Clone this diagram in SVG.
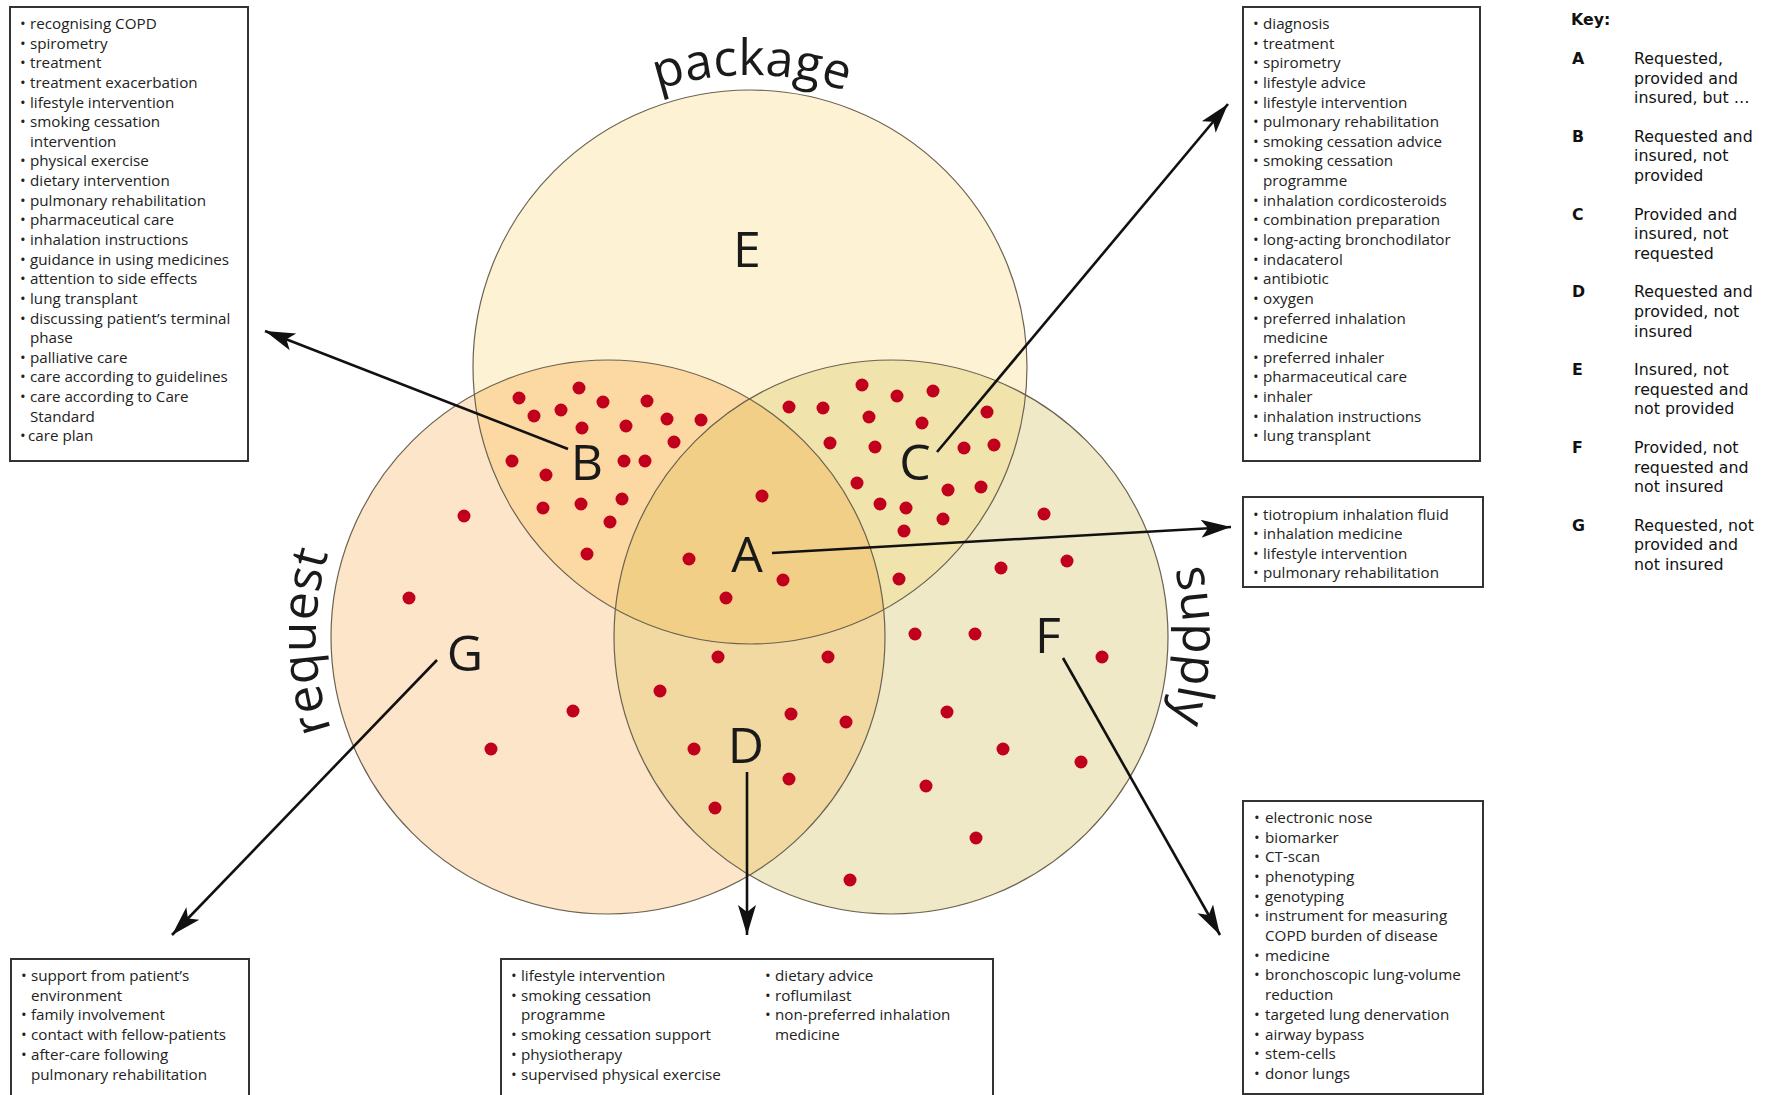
<svg xmlns="http://www.w3.org/2000/svg" xmlns:xlink="http://www.w3.org/1999/xlink" width="1767" height="1095" viewBox="0 0 1767 1095">
<style>
.t{font-family:"Open Sans","Noto Sans","Liberation Sans",sans-serif;font-size:15.2px;fill:#222}
.big{font-family:"Open Sans","Noto Sans","Liberation Sans",sans-serif;font-size:50px;fill:#1a1a1a}
.lab{text-anchor:middle}
.k{font-family:"DejaVu Sans","Liberation Sans",sans-serif;font-size:15.8px;fill:#111}
.kb{font-weight:bold}
.box{fill:#fff;stroke:#333;stroke-width:2}
.ring{fill:none;stroke:#6b6350;stroke-width:1.2}
.d{fill:#c1001d}
.c{fill:none;stroke:#111;stroke-width:2.6;marker-end:url(#ah)}
</style>
<defs>
<marker id="ah" markerUnits="userSpaceOnUse" markerWidth="32" markerHeight="22" refX="30" refY="11" orient="auto">
<path d="M0,2 L30,11 L0,20 L7,11 Z" fill="#111"/>
</marker>
<clipPath id="cpP"><circle cx="750" cy="367" r="277"/></clipPath>
<clipPath id="cpR"><circle cx="608" cy="637" r="277"/></clipPath>
<clipPath id="cpS"><circle cx="891" cy="637" r="277"/></clipPath>
<path id="arcP" d="M458,367 A292,292 0 0 1 1042,367"/>
<path id="arcR" d="M608,929 A292,292 0 0 1 608,345"/>
<path id="arcS" d="M891,345 A292,292 0 0 1 891,929"/>
</defs>

<g id="venn">
<circle cx="750" cy="367" r="277" fill="#fdf2d3"/>
<circle cx="608" cy="637" r="277" fill="#fde5ca"/>
<circle cx="891" cy="637" r="277" fill="#efe9c8"/>
<g clip-path="url(#cpP)"><circle cx="608" cy="637" r="277" fill="#fcd9a3"/><circle cx="891" cy="637" r="277" fill="#f0e3ab"/></g>
<g clip-path="url(#cpR)"><circle cx="891" cy="637" r="277" fill="#f2d9a2"/></g>
<g clip-path="url(#cpR)"><g clip-path="url(#cpS)"><circle cx="750" cy="367" r="277" fill="#f2cf86"/></g></g>
<circle class="ring" cx="750" cy="367" r="277"/>
<circle class="ring" cx="608" cy="637" r="277"/>
<circle class="ring" cx="891" cy="637" r="277"/>
</g>

<g id="set-labels">
<text class="big lab"><textPath xlink:href="#arcP" href="#arcP" startOffset="50.2%">package</textPath></text>
<text class="big lab"><textPath xlink:href="#arcR" href="#arcR" startOffset="49.5%">request</textPath></text>
<text class="big lab"><textPath xlink:href="#arcS" href="#arcS" startOffset="50.9%">supply</textPath></text>
</g>

<g id="dots">
<circle class="d" r="6.5" cx="519" cy="398"/><circle class="d" r="6.5" cx="579" cy="388"/><circle class="d" r="6.5" cx="534" cy="416"/><circle class="d" r="6.5" cx="561" cy="410"/><circle class="d" r="6.5" cx="603" cy="402"/><circle class="d" r="6.5" cx="647" cy="401"/><circle class="d" r="6.5" cx="582" cy="428"/><circle class="d" r="6.5" cx="626" cy="426"/><circle class="d" r="6.5" cx="667" cy="419"/><circle class="d" r="6.5" cx="701" cy="420"/><circle class="d" r="6.5" cx="674" cy="442"/><circle class="d" r="6.5" cx="512" cy="461"/><circle class="d" r="6.5" cx="546" cy="475"/><circle class="d" r="6.5" cx="624" cy="461"/><circle class="d" r="6.5" cx="645" cy="461"/><circle class="d" r="6.5" cx="543" cy="508"/><circle class="d" r="6.5" cx="581" cy="504"/><circle class="d" r="6.5" cx="622" cy="499"/><circle class="d" r="6.5" cx="610" cy="522"/><circle class="d" r="6.5" cx="587" cy="554"/>
<circle class="d" r="6.5" cx="789" cy="407"/><circle class="d" r="6.5" cx="823" cy="408"/><circle class="d" r="6.5" cx="862" cy="385"/><circle class="d" r="6.5" cx="897" cy="396"/><circle class="d" r="6.5" cx="933" cy="391"/><circle class="d" r="6.5" cx="869" cy="417"/><circle class="d" r="6.5" cx="922" cy="423"/><circle class="d" r="6.5" cx="987" cy="412"/><circle class="d" r="6.5" cx="830" cy="443"/><circle class="d" r="6.5" cx="875" cy="447"/><circle class="d" r="6.5" cx="964" cy="448"/><circle class="d" r="6.5" cx="994" cy="445"/><circle class="d" r="6.5" cx="857" cy="483"/><circle class="d" r="6.5" cx="948" cy="490"/><circle class="d" r="6.5" cx="981" cy="487"/><circle class="d" r="6.5" cx="880" cy="504"/><circle class="d" r="6.5" cx="906" cy="508"/><circle class="d" r="6.5" cx="943" cy="519"/><circle class="d" r="6.5" cx="904" cy="531"/><circle class="d" r="6.5" cx="899" cy="579"/>
<circle class="d" r="6.5" cx="762" cy="496"/><circle class="d" r="6.5" cx="689" cy="559"/><circle class="d" r="6.5" cx="783" cy="580"/><circle class="d" r="6.5" cx="726" cy="598"/>
<circle class="d" r="6.5" cx="718" cy="657"/><circle class="d" r="6.5" cx="828" cy="657"/><circle class="d" r="6.5" cx="660" cy="691"/><circle class="d" r="6.5" cx="791" cy="714"/><circle class="d" r="6.5" cx="846" cy="722"/><circle class="d" r="6.5" cx="694" cy="749"/><circle class="d" r="6.5" cx="789" cy="779"/><circle class="d" r="6.5" cx="715" cy="808"/>
<circle class="d" r="6.5" cx="1044" cy="514"/><circle class="d" r="6.5" cx="1067" cy="561"/><circle class="d" r="6.5" cx="1001" cy="568"/><circle class="d" r="6.5" cx="915" cy="634"/><circle class="d" r="6.5" cx="975" cy="634"/><circle class="d" r="6.5" cx="1102" cy="657"/><circle class="d" r="6.5" cx="947" cy="712"/><circle class="d" r="6.5" cx="1003" cy="749"/><circle class="d" r="6.5" cx="1081" cy="762"/><circle class="d" r="6.5" cx="926" cy="786"/><circle class="d" r="6.5" cx="976" cy="838"/><circle class="d" r="6.5" cx="850" cy="880"/>
<circle class="d" r="6.5" cx="464" cy="516"/><circle class="d" r="6.5" cx="409" cy="598"/><circle class="d" r="6.5" cx="573" cy="711"/><circle class="d" r="6.5" cx="491" cy="749"/>
</g>

<g id="node-E"><text class="big lab" x="747" y="267">E</text></g>
<g id="node-A"><text class="big lab" x="747" y="572">A</text></g>
<g id="node-B"><text class="big lab" x="587" y="480">B</text></g>
<g id="node-C"><text class="big lab" x="915" y="480">C</text></g>
<g id="node-D"><text class="big lab" x="746" y="763">D</text></g>
<g id="node-F"><text class="big lab" x="1048" y="653">F</text></g>
<g id="node-G"><text class="big lab" x="465" y="671">G</text></g>

<g id="connectors">
<line class="c" x1="568" y1="449" x2="265" y2="331"/>
<line class="c" x1="937" y1="452" x2="1228" y2="104"/>
<line class="c" x1="772" y1="553" x2="1231" y2="527"/>
<line class="c" x1="437" y1="660" x2="172" y2="935"/>
<line class="c" x1="747" y1="772" x2="747" y2="935"/>
<line class="c" x1="1063" y1="658" x2="1220" y2="935"/>
</g>

<g id="box-B">
<rect class="box" x="10" y="7" width="238" height="454"/>
<text class="t">
<tspan x="20" y="29">•</tspan><tspan x="30" y="29">recognising COPD</tspan>
<tspan x="20" y="48.6">•</tspan><tspan x="30" y="48.6">spirometry</tspan>
<tspan x="20" y="68.3">•</tspan><tspan x="30" y="68.3">treatment</tspan>
<tspan x="20" y="87.9">•</tspan><tspan x="30" y="87.9">treatment exacerbation</tspan>
<tspan x="20" y="107.5">•</tspan><tspan x="30" y="107.5">lifestyle intervention</tspan>
<tspan x="20" y="127.2">•</tspan><tspan x="30" y="127.2">smoking cessation</tspan>
<tspan x="30" y="146.8">intervention</tspan>
<tspan x="20" y="166.4">•</tspan><tspan x="30" y="166.4">physical exercise</tspan>
<tspan x="20" y="186">•</tspan><tspan x="30" y="186">dietary intervention</tspan>
<tspan x="20" y="205.7">•</tspan><tspan x="30" y="205.7">pulmonary rehabilitation</tspan>
<tspan x="20" y="225.3">•</tspan><tspan x="30" y="225.3">pharmaceutical care</tspan>
<tspan x="20" y="245">•</tspan><tspan x="30" y="245">inhalation instructions</tspan>
<tspan x="20" y="264.6">•</tspan><tspan x="30" y="264.6">guidance in using medicines</tspan>
<tspan x="20" y="284.2">•</tspan><tspan x="30" y="284.2">attention to side effects</tspan>
<tspan x="20" y="303.8">•</tspan><tspan x="30" y="303.8">lung transplant</tspan>
<tspan x="20" y="323.5">•</tspan><tspan x="30" y="323.5">discussing patient’s terminal</tspan>
<tspan x="30" y="343.1">phase</tspan>
<tspan x="20" y="362.7">•</tspan><tspan x="30" y="362.7">palliative care</tspan>
<tspan x="20" y="382.4">•</tspan><tspan x="30" y="382.4">care according to guidelines</tspan>
<tspan x="20" y="402">•</tspan><tspan x="30" y="402">care according to Care</tspan>
<tspan x="30" y="421.6">Standard</tspan>
<tspan x="20" y="441.2">•</tspan><tspan x="28" y="441.2">care plan</tspan>
</text>
</g>

<g id="box-C">
<rect class="box" x="1243" y="7" width="237" height="454"/>
<text class="t">
<tspan x="1253" y="29">•</tspan><tspan x="1263" y="29">diagnosis</tspan>
<tspan x="1253" y="48.6">•</tspan><tspan x="1263" y="48.6">treatment</tspan>
<tspan x="1253" y="68.3">•</tspan><tspan x="1263" y="68.3">spirometry</tspan>
<tspan x="1253" y="87.9">•</tspan><tspan x="1263" y="87.9">lifestyle advice</tspan>
<tspan x="1253" y="107.5">•</tspan><tspan x="1263" y="107.5">lifestyle intervention</tspan>
<tspan x="1253" y="127.2">•</tspan><tspan x="1263" y="127.2">pulmonary rehabilitation</tspan>
<tspan x="1253" y="146.8">•</tspan><tspan x="1263" y="146.8">smoking cessation advice</tspan>
<tspan x="1253" y="166.4">•</tspan><tspan x="1263" y="166.4">smoking cessation</tspan>
<tspan x="1263" y="186">programme</tspan>
<tspan x="1253" y="205.7">•</tspan><tspan x="1263" y="205.7">inhalation cordicosteroids</tspan>
<tspan x="1253" y="225.3">•</tspan><tspan x="1263" y="225.3">combination preparation</tspan>
<tspan x="1253" y="245">•</tspan><tspan x="1263" y="245">long-acting bronchodilator</tspan>
<tspan x="1253" y="264.6">•</tspan><tspan x="1263" y="264.6">indacaterol</tspan>
<tspan x="1253" y="284.2">•</tspan><tspan x="1263" y="284.2">antibiotic</tspan>
<tspan x="1253" y="303.8">•</tspan><tspan x="1263" y="303.8">oxygen</tspan>
<tspan x="1253" y="323.5">•</tspan><tspan x="1263" y="323.5">preferred inhalation</tspan>
<tspan x="1263" y="343.1">medicine</tspan>
<tspan x="1253" y="362.7">•</tspan><tspan x="1263" y="362.7">preferred inhaler</tspan>
<tspan x="1253" y="382.4">•</tspan><tspan x="1263" y="382.4">pharmaceutical care</tspan>
<tspan x="1253" y="402">•</tspan><tspan x="1263" y="402">inhaler</tspan>
<tspan x="1253" y="421.6">•</tspan><tspan x="1263" y="421.6">inhalation instructions</tspan>
<tspan x="1253" y="441.2">•</tspan><tspan x="1263" y="441.2">lung transplant</tspan>
</text>
</g>

<g id="box-A">
<rect class="box" x="1243" y="497" width="240" height="90"/>
<text class="t">
<tspan x="1253" y="519.5">•</tspan><tspan x="1263" y="519.5">tiotropium inhalation fluid</tspan>
<tspan x="1253" y="539">•</tspan><tspan x="1263" y="539">inhalation medicine</tspan>
<tspan x="1253" y="558.5">•</tspan><tspan x="1263" y="558.5">lifestyle intervention</tspan>
<tspan x="1253" y="578">•</tspan><tspan x="1263" y="578">pulmonary rehabilitation</tspan>
</text>
</g>

<g id="box-F">
<rect class="box" x="1243" y="801" width="240" height="293"/>
<text class="t">
<tspan x="1254" y="823">•</tspan><tspan x="1265" y="823">electronic nose</tspan>
<tspan x="1254" y="842.7">•</tspan><tspan x="1265" y="842.7">biomarker</tspan>
<tspan x="1254" y="862.4">•</tspan><tspan x="1265" y="862.4">CT-scan</tspan>
<tspan x="1254" y="882">•</tspan><tspan x="1265" y="882">phenotyping</tspan>
<tspan x="1254" y="901.7">•</tspan><tspan x="1265" y="901.7">genotyping</tspan>
<tspan x="1254" y="921.4">•</tspan><tspan x="1265" y="921.4">instrument for measuring</tspan>
<tspan x="1265" y="941.1">COPD burden of disease</tspan>
<tspan x="1254" y="960.8">•</tspan><tspan x="1265" y="960.8">medicine</tspan>
<tspan x="1254" y="980.4">•</tspan><tspan x="1265" y="980.4">bronchoscopic lung-volume</tspan>
<tspan x="1265" y="1000.1">reduction</tspan>
<tspan x="1254" y="1019.8">•</tspan><tspan x="1265" y="1019.8">targeted lung denervation</tspan>
<tspan x="1254" y="1039.5">•</tspan><tspan x="1265" y="1039.5">airway bypass</tspan>
<tspan x="1254" y="1059.2">•</tspan><tspan x="1265" y="1059.2">stem-cells</tspan>
<tspan x="1254" y="1078.8">•</tspan><tspan x="1265" y="1078.8">donor lungs</tspan>
</text>
</g>

<g id="box-G">
<rect class="box" x="11" y="959" width="238" height="140"/>
<text class="t">
<tspan x="21" y="981">•</tspan><tspan x="31" y="981">support from patient’s</tspan>
<tspan x="31" y="1000.7">environment</tspan>
<tspan x="21" y="1020.4">•</tspan><tspan x="31" y="1020.4">family involvement</tspan>
<tspan x="21" y="1040.1">•</tspan><tspan x="31" y="1040.1">contact with fellow-patients</tspan>
<tspan x="21" y="1059.8">•</tspan><tspan x="31" y="1059.8">after-care following</tspan>
<tspan x="31" y="1079.5">pulmonary rehabilitation</tspan>
</text>
</g>

<g id="box-D">
<rect class="box" x="501" y="959" width="492" height="140"/>
<text class="t">
<tspan x="511" y="981">•</tspan><tspan x="521" y="981">lifestyle intervention</tspan>
<tspan x="511" y="1000.7">•</tspan><tspan x="521" y="1000.7">smoking cessation</tspan>
<tspan x="521" y="1020.4">programme</tspan>
<tspan x="511" y="1040.1">•</tspan><tspan x="521" y="1040.1">smoking cessation support</tspan>
<tspan x="511" y="1059.8">•</tspan><tspan x="521" y="1059.8">physiotherapy</tspan>
<tspan x="511" y="1079.5">•</tspan><tspan x="521" y="1079.5">supervised physical exercise</tspan>
<tspan x="765" y="981">•</tspan><tspan x="775" y="981">dietary advice</tspan>
<tspan x="765" y="1000.7">•</tspan><tspan x="775" y="1000.7">roflumilast</tspan>
<tspan x="765" y="1020.4">•</tspan><tspan x="775" y="1020.4">non-preferred inhalation</tspan>
<tspan x="775" y="1040.1">medicine</tspan>
</text>
</g>

<g id="key">
<text class="k kb" x="1571" y="25">Key:</text>
<text class="k kb" x="1572" y="64">A</text>
<text class="k"><tspan x="1634" y="64">Requested,</tspan><tspan x="1634" y="83.6">provided and</tspan><tspan x="1634" y="103.2">insured, but …</tspan></text>
<text class="k kb" x="1572" y="141.8">B</text>
<text class="k"><tspan x="1634" y="141.8">Requested and</tspan><tspan x="1634" y="161.4">insured, not</tspan><tspan x="1634" y="181">provided</tspan></text>
<text class="k kb" x="1572" y="219.6">C</text>
<text class="k"><tspan x="1634" y="219.6">Provided and</tspan><tspan x="1634" y="239.2">insured, not</tspan><tspan x="1634" y="258.8">requested</tspan></text>
<text class="k kb" x="1572" y="297.4">D</text>
<text class="k"><tspan x="1634" y="297.4">Requested and</tspan><tspan x="1634" y="317">provided, not</tspan><tspan x="1634" y="336.6">insured</tspan></text>
<text class="k kb" x="1572" y="375.2">E</text>
<text class="k"><tspan x="1634" y="375.2">Insured, not</tspan><tspan x="1634" y="394.8">requested and</tspan><tspan x="1634" y="414.4">not provided</tspan></text>
<text class="k kb" x="1572" y="453">F</text>
<text class="k"><tspan x="1634" y="453">Provided, not</tspan><tspan x="1634" y="472.6">requested and</tspan><tspan x="1634" y="492.2">not insured</tspan></text>
<text class="k kb" x="1572" y="530.8">G</text>
<text class="k"><tspan x="1634" y="530.8">Requested, not</tspan><tspan x="1634" y="550.4">provided and</tspan><tspan x="1634" y="570">not insured</tspan></text>
</g>
</svg>
